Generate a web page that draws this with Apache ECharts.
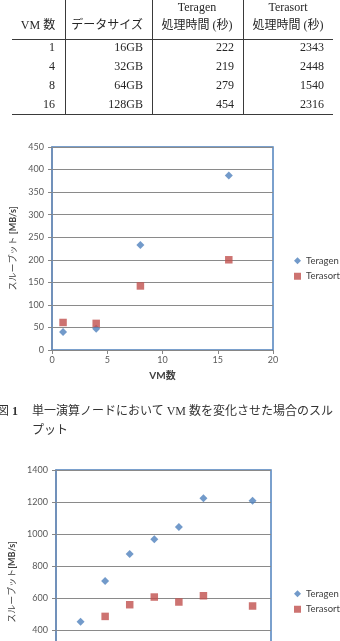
<!DOCTYPE html>
<html>
<head>
<meta charset="utf-8">
<script src="https://cdn.jsdelivr.net/npm/echarts@6/dist/echarts.min.js"></script>
<style>
  html, body { margin: 0; padding: 0; background: #fff; }
  body { width: 340px; height: 641px; overflow: hidden; position: relative; }
  #chart { position: absolute; left: 0; top: 0; width: 340px; height: 740px; }
  .txt {
    position: absolute; white-space: nowrap; line-height: 16px; height: 16px;
    font-family: "Liberation Serif", "Noto Sans CJK JP", serif; font-size: 12px; color: #262626;
  }
  .rule { position: absolute; background: #3a3a3a; }
  .cap {
    position: absolute; white-space: nowrap; line-height: 16px;
    font-family: "Liberation Serif", "Noto Sans CJK JP", serif; font-size: 12px; color: #333;
  }
</style>
</head>
<body>
<div id="chart"></div>
<div id="table"></div>
<div class="cap" style="left:-3px;top:403px;">図</div>
<div class="cap" style="left:12px;top:403px;font-weight:bold;">1</div>
<div class="cap" style="left:32px;top:403px;">単一演算ノードにおいて VM 数を変化させた場合のスル</div>
<div class="cap" style="left:32px;top:422px;">プット</div>
<script>
// 表: VM数ごとの処理時間
const vmCounts = [1, 4, 8, 16];
const dataSizes = ["16GB", "32GB", "64GB", "128GB"];
const teragenTimes = [222, 219, 279, 454];
const terasortTimes = [2343, 2448, 1540, 2316];

// 図1: 単一ノードでのスループット [MB/s]
const teragenThroughput = [40, 47, 233, 387];
const terasortThroughput = [61, 59, 142, 200];

// 図2: 下のグラフ (x=1 の Terasort は見えない)
const nodeCounts = [1, 2, 3, 4, 5, 6, 8];
const teragenMulti = [452, 706, 875, 967, 1044, 1223, 1208];
const terasortMulti = [null, 485, 558, 606, 575, 614, 550];

// --- 表を描く ---
const table = document.getElementById("table");
const put = (text, x, y, align) => {
  const d = document.createElement("div");
  d.className = "txt";
  d.textContent = text;
  d.style.top = (y - 8) + "px";
  if (align === "right") {
    d.style.right = (340 - x) + "px";
  } else {
    d.style.left = (x - 60) + "px";
    d.style.width = "120px";
    d.style.textAlign = "center";
  }
  table.appendChild(d);
};
const rule = (x, y, w, h) => {
  const d = document.createElement("div");
  d.className = "rule";
  Object.assign(d.style, { left: x + "px", top: y + "px", width: w + "px", height: h + "px" });
  table.appendChild(d);
};

put("Teragen", 197, 7, "center");
put("Terasort", 288, 7, "center");
put("VM 数", 38, 25, "center");
put("データサイズ", 143, 25, "right");
put("処理時間 (秒)", 197, 25, "center");
put("処理時間 (秒)", 288, 25, "center");

const rowY = [46.5, 65.5, 84.5, 103.5];
vmCounts.forEach((vm, i) => {
  put(String(vm), 55, rowY[i], "right");
  put(dataSizes[i], 143, rowY[i], "right");
  put(String(teragenTimes[i]), 234, rowY[i], "right");
  put(String(terasortTimes[i]), 324, rowY[i], "right");
});
rule(12, 38.5, 321, 1.4);
rule(12, 113.5, 321, 1);
[65, 152, 242.5].forEach(x => rule(x, 0, 1, 114));

// --- グラフ ---
const FONT = 'Lato, "Noto Sans CJK JP", sans-serif';
const BLUE = "#4f81bd";
const RED = "#c0504d";
const GRID_LINE = "#8a8a8a";
const labelStyle = { color: "#595959", fontSize: 9, fontFamily: FONT, formatter: v => String(v) };

const pairs = (xs, ys) => xs.map((x, i) => [x, ys[i]]).filter(p => p[1] != null);

const yName = (text) => ({
  name: text,
  nameLocation: "middle",
  nameRotate: 90,
  nameTextStyle: {
    rich: {
      a: { fontSize: 9, fontFamily: FONT, color: "#404040" },
      b: { fontSize: 9, fontFamily: FONT, color: "#404040", fontWeight: "bold" },
    },
  },
});

const legendFor = (top) => ({
  orient: "vertical",
  left: 289,
  top: top,
  itemWidth: 7,
  itemHeight: 7,
  itemGap: 6,
  textStyle: { fontSize: 9.5, fontFamily: FONT, color: "#404040" },
  data: [
    { name: "Teragen", icon: "diamond" },
    { name: "Terasort", icon: "rect" },
  ],
});

const chart = echarts.init(document.getElementById("chart"));
chart.setOption({
  animation: false,
  textStyle: { fontFamily: FONT },
  grid: [
    { left: 52, top: 147, width: 221, height: 203, show: true, borderColor: BLUE, borderWidth: 1.5, outerBoundsMode: "none" },
    { left: 56, top: 470, width: 215, height: 224, show: true, borderColor: BLUE, borderWidth: 1.5, outerBoundsMode: "none" },
  ],
  xAxis: [
    {
      gridIndex: 0, type: "value", min: 0, max: 20, interval: 5,
      splitLine: { show: false },
      axisLine: { lineStyle: { color: "#868686" } },
      axisTick: { show: true, length: 4, lineStyle: { color: "#868686" } },
      axisLabel: { ...labelStyle, margin: 6 },
      name: "VM数", nameLocation: "middle", nameGap: 21,
      nameTextStyle: { fontSize: 10, fontWeight: "bold", color: "#404040", fontFamily: FONT },
    },
    {
      gridIndex: 1, type: "value", min: 0, max: 8.75,
      splitLine: { show: false },
      axisLine: { lineStyle: { color: "#868686" } },
      axisTick: { show: true, length: 4, lineStyle: { color: "#868686" } },
      axisLabel: { ...labelStyle, margin: 6 },
    },
  ],
  yAxis: [
    {
      gridIndex: 0, type: "value", min: 0, max: 450, interval: 50,
      splitLine: { lineStyle: { color: GRID_LINE } },
      axisLine: { show: true, lineStyle: { color: "#6f8db3", width: 1.5 } },
      axisTick: { show: true, length: 4, lineStyle: { color: "#868686" } },
      axisLabel: { ...labelStyle, margin: 8 },
      nameGap: 29,
      ...yName("{a|スループット }{b|[MB/s]}"),
    },
    {
      gridIndex: 1, type: "value", min: 0, max: 1400, interval: 200,
      splitLine: { lineStyle: { color: GRID_LINE } },
      axisLine: { show: true, lineStyle: { color: "#6f8db3", width: 1.5 } },
      axisTick: { show: true, length: 4, lineStyle: { color: "#868686" } },
      axisLabel: { ...labelStyle, margin: 8 },
      nameGap: 34,
      ...yName("{a|スループット}{b|[MB/s]}"),
    },
  ],
  legend: [legendFor(251), legendFor(584)],
  series: [
    {
      name: "Teragen", type: "scatter", xAxisIndex: 0, yAxisIndex: 0,
      symbol: "diamond", symbolSize: 8, itemStyle: { color: BLUE },
      data: pairs(vmCounts, teragenThroughput),
    },
    {
      name: "Terasort", type: "scatter", xAxisIndex: 0, yAxisIndex: 0,
      symbol: "rect", symbolSize: 7.5, itemStyle: { color: RED },
      data: pairs(vmCounts, terasortThroughput),
    },
    {
      name: "Teragen", type: "scatter", xAxisIndex: 1, yAxisIndex: 1,
      symbol: "diamond", symbolSize: 8, itemStyle: { color: BLUE },
      data: pairs(nodeCounts, teragenMulti),
    },
    {
      name: "Terasort", type: "scatter", xAxisIndex: 1, yAxisIndex: 1,
      symbol: "rect", symbolSize: 7.5, itemStyle: { color: RED },
      data: pairs(nodeCounts, terasortMulti),
    },
  ],
});
</script>
</body>
</html>
